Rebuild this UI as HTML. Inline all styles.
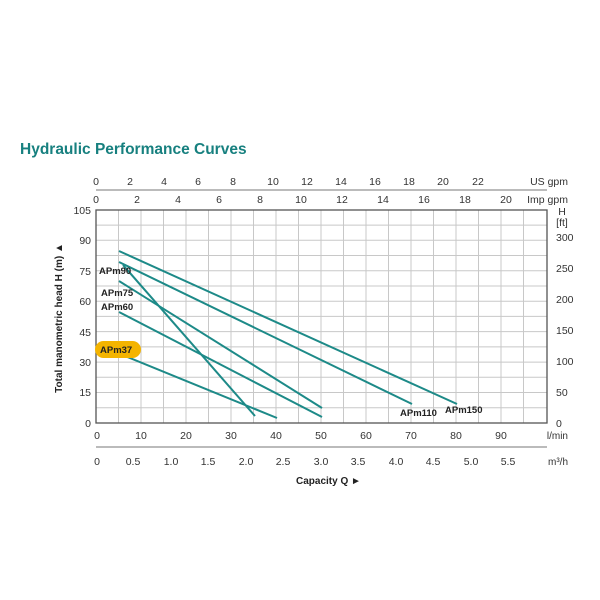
<!DOCTYPE html>
<html><head><style>
body{margin:0;background:#fff;}
svg{display:block;font-family:"Liberation Sans",Arial,sans-serif;}
</style></head><body>
<svg width="600" height="600" viewBox="0 0 600 600" xmlns="http://www.w3.org/2000/svg">
<rect width="600" height="600" fill="#fff"/>
<text x="20" y="154" font-size="15.5" font-weight="bold" fill="#17807f">Hydraulic Performance Curves</text>
<g stroke="#c8c8c8" stroke-width="1">
<line x1="118.5" y1="210" x2="118.5" y2="423"/><line x1="141" y1="210" x2="141" y2="423"/><line x1="163.5" y1="210" x2="163.5" y2="423"/><line x1="186" y1="210" x2="186" y2="423"/><line x1="208.5" y1="210" x2="208.5" y2="423"/><line x1="231" y1="210" x2="231" y2="423"/><line x1="253.5" y1="210" x2="253.5" y2="423"/><line x1="276" y1="210" x2="276" y2="423"/><line x1="298.5" y1="210" x2="298.5" y2="423"/><line x1="321" y1="210" x2="321" y2="423"/><line x1="343.5" y1="210" x2="343.5" y2="423"/><line x1="366" y1="210" x2="366" y2="423"/><line x1="388.5" y1="210" x2="388.5" y2="423"/><line x1="411" y1="210" x2="411" y2="423"/><line x1="433.5" y1="210" x2="433.5" y2="423"/><line x1="456" y1="210" x2="456" y2="423"/><line x1="478.5" y1="210" x2="478.5" y2="423"/><line x1="501" y1="210" x2="501" y2="423"/><line x1="523.5" y1="210" x2="523.5" y2="423"/>
<line x1="96" y1="407.8" x2="547" y2="407.8"/><line x1="96" y1="392.5" x2="547" y2="392.5"/><line x1="96" y1="377.3" x2="547" y2="377.3"/><line x1="96" y1="362.1" x2="547" y2="362.1"/><line x1="96" y1="346.9" x2="547" y2="346.9"/><line x1="96" y1="331.6" x2="547" y2="331.6"/><line x1="96" y1="316.4" x2="547" y2="316.4"/><line x1="96" y1="301.2" x2="547" y2="301.2"/><line x1="96" y1="286" x2="547" y2="286"/><line x1="96" y1="270.7" x2="547" y2="270.7"/><line x1="96" y1="255.5" x2="547" y2="255.5"/><line x1="96" y1="240.3" x2="547" y2="240.3"/><line x1="96" y1="225.1" x2="547" y2="225.1"/>
</g>
<rect x="96" y="210" width="451" height="213" fill="none" stroke="#555" stroke-width="1.3"/>
<!-- top axes -->
<g stroke="#777" stroke-width="1">
<line x1="96" y1="190" x2="547" y2="190"/>
</g>
<g font-size="10.5" fill="#333" text-anchor="middle">
<text x="96" y="185">0</text><text x="130" y="185">2</text><text x="164" y="185">4</text><text x="198" y="185">6</text><text x="233" y="185">8</text><text x="273" y="185">10</text><text x="307" y="185">12</text><text x="341" y="185">14</text><text x="375" y="185">16</text><text x="409" y="185">18</text><text x="443" y="185">20</text><text x="478" y="185">22</text>
<text x="96" y="203">0</text><text x="137" y="203">2</text><text x="178" y="203">4</text><text x="219" y="203">6</text><text x="260" y="203">8</text><text x="301" y="203">10</text><text x="342" y="203">12</text><text x="383" y="203">14</text><text x="424" y="203">16</text><text x="465" y="203">18</text><text x="506" y="203">20</text>
</g>
<text x="568" y="185" font-size="10.5" fill="#333" text-anchor="end">US gpm</text>
<text x="568" y="203" font-size="10.5" fill="#333" text-anchor="end">Imp gpm</text>
<!-- left axis -->
<g font-size="10.5" fill="#333" text-anchor="end">
<text x="91" y="214">105</text><text x="91" y="244">90</text><text x="91" y="275">75</text><text x="91" y="305">60</text><text x="91" y="336">45</text><text x="91" y="366">30</text><text x="91" y="396">15</text><text x="91" y="427">0</text>
</g>
<text transform="translate(62,318) rotate(-90)" font-size="10" font-weight="bold" fill="#222" text-anchor="middle">Total manometric head H (m)  ▲</text>
<!-- right axis -->
<g font-size="10.5" fill="#333">
<text x="556" y="241">300</text><text x="556" y="272">250</text><text x="556" y="303">200</text><text x="556" y="334">150</text><text x="556" y="365">100</text><text x="556" y="396">50</text><text x="556" y="427">0</text>
<text x="562" y="215" text-anchor="middle">H</text><text x="562" y="226" text-anchor="middle">[ft]</text>
</g>
<!-- bottom -->
<g font-size="10.5" fill="#333" text-anchor="middle">
<text x="97" y="439">0</text><text x="141" y="439">10</text><text x="186" y="439">20</text><text x="231" y="439">30</text><text x="276" y="439">40</text><text x="321" y="439">50</text><text x="366" y="439">60</text><text x="411" y="439">70</text><text x="456" y="439">80</text><text x="501" y="439">90</text>
<text x="97" y="465">0</text><text x="133" y="465">0.5</text><text x="171" y="465">1.0</text><text x="208" y="465">1.5</text><text x="246" y="465">2.0</text><text x="283" y="465">2.5</text><text x="321" y="465">3.0</text><text x="358" y="465">3.5</text><text x="396" y="465">4.0</text><text x="433" y="465">4.5</text><text x="471" y="465">5.0</text><text x="508" y="465">5.5</text>
</g>
<text x="568" y="439" font-size="10" fill="#333" text-anchor="end">l/min</text>
<text x="568" y="465" font-size="10" fill="#333" text-anchor="end">m³/h</text>
<line x1="96" y1="447" x2="547" y2="447" stroke="#777" stroke-width="1"/>
<text x="296" y="484" font-size="10" font-weight="bold" fill="#222">Capacity Q   ►</text>
<!-- curves -->
<g stroke="#1d8a88" stroke-width="2" fill="none">
<line x1="119" y1="251" x2="457" y2="404"/>
<line x1="119" y1="262" x2="412" y2="404"/>
<line x1="123" y1="265" x2="255" y2="416"/>
<line x1="119" y1="281" x2="322" y2="408"/>
<line x1="119" y1="312" x2="322" y2="417"/>
<line x1="120" y1="354" x2="277" y2="418"/>
</g>
<rect x="95" y="341" width="46" height="17" rx="8.5" fill="#f4b400"/>
<g font-size="9.5" font-weight="bold" fill="#222">
<text x="99" y="274">APm90</text>
<text x="101" y="296">APm75</text>
<text x="101" y="310">APm60</text>
<text x="100" y="353">APm37</text>
<text x="400" y="416">APm110</text>
<text x="445" y="413">APm150</text>
</g>
</svg>
</body></html>
